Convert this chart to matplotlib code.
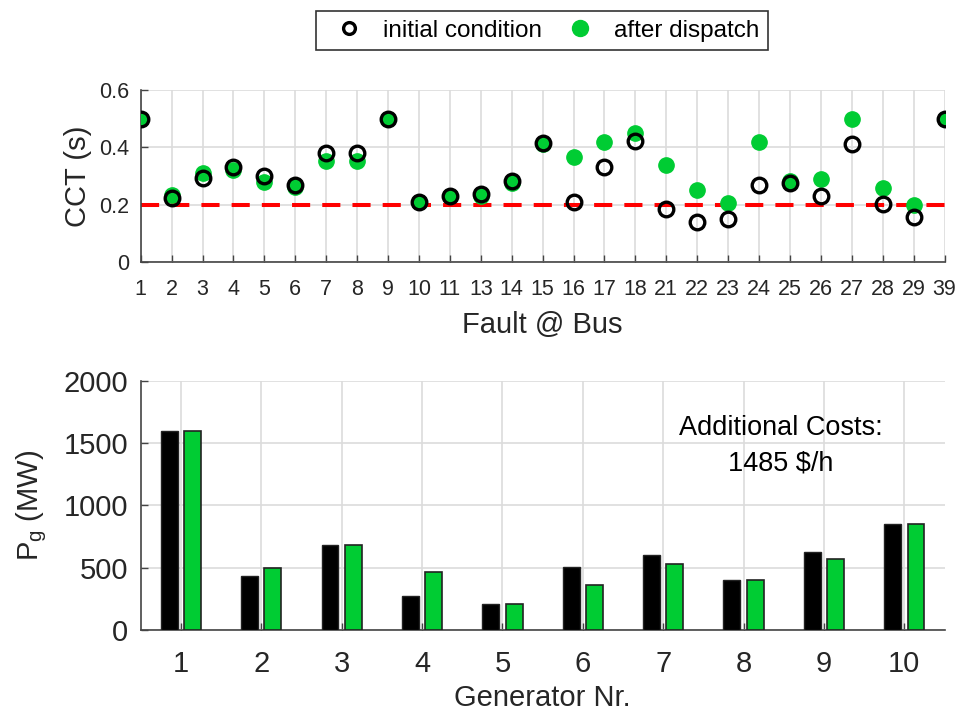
import numpy as np
import matplotlib.pyplot as plt
from matplotlib.lines import Line2D

plt.rcParams['font.family'] = ['Liberation Sans', 'DejaVu Sans']

# CCT per fault location
buses = ['1', '2', '3', '4', '5', '6', '7', '8', '9', '10', '11', '13', '14', '15',
         '16', '17', '18', '21', '22', '23', '24', '25', '26', '27', '28', '29', '39']
cct_initial = [0.50, 0.225, 0.295, 0.333, 0.302, 0.269, 0.381, 0.381, 0.50, 0.211,
               0.231, 0.237, 0.283, 0.417, 0.210, 0.333, 0.422, 0.186, 0.139, 0.152,
               0.268, 0.275, 0.231, 0.411, 0.201, 0.159, 0.50]
cct_dispatch = [0.50, 0.234, 0.312, 0.321, 0.281, 0.263, 0.354, 0.354, 0.50, 0.211,
                0.231, 0.229, 0.275, 0.411, 0.366, 0.418, 0.449, 0.339, 0.251, 0.205,
                0.418, 0.284, 0.289, 0.501, 0.258, 0.200, 0.50]
cct_limit = 0.2

# generator outputs
generators = [1, 2, 3, 4, 5, 6, 7, 8, 9, 10]
pg_initial = [1600, 433, 682, 275, 209, 505, 599, 398, 623, 853]
pg_dispatch = [1600, 497, 680, 468, 206, 358, 529, 398, 567, 853]
extra_cost = 1485

green = '#00cc33'
txt = '#262626'

fig = plt.figure(figsize=(9.57, 7.16), dpi=100)
ax1 = fig.add_axes([0.147, 0.634, 0.840, 0.240])
ax2 = fig.add_axes([0.147, 0.120, 0.840, 0.348])

for ax in (ax1, ax2):
    ax.grid(True, color='#dcdcdc', linewidth=1.2)
    ax.set_axisbelow(True)
    for s in ('top', 'right'):
        ax.spines[s].set_visible(False)
    for s in ('left', 'bottom'):
        ax.spines[s].set_color('#444444')
        ax.spines[s].set_linewidth(1.2)
    ax.tick_params(direction='in', colors='#444444', labelcolor=txt, length=5, width=1)

# top plot
x = np.arange(1, len(buses) + 1)
ax1.axhline(cct_limit, color='red', linestyle=(0, (4.5, 3.0)), linewidth=2.9, zorder=2)
ax1.plot(x, cct_dispatch, 'o', color=green, markeredgecolor=green, markersize=11,
         zorder=3)
ax1.plot(x, cct_initial, 'o', markerfacecolor='none', markeredgecolor='black',
         markersize=10.5, markeredgewidth=2.4, zorder=4)
ax1.set_xlim(1, len(buses))
ax1.set_ylim(0, 0.6)
ax1.set_xticks(x)
ax1.set_xticklabels(buses, fontsize=15.5)
ax1.set_yticks([0, 0.2, 0.4, 0.6])
ax1.set_yticklabels(['0', '0.2', '0.4', '0.6'], fontsize=15.5)
ax1.tick_params(axis='x', pad=12)
ax1.tick_params(axis='y', pad=8)
ax1.set_ylabel('CCT (s)', fontsize=21, color=txt)
ax1.set_xlabel('Fault @ Bus', fontsize=21, color=txt, labelpad=8)
ax1.yaxis.set_label_coords(-0.060, 0.5)

# bottom plot
g = np.array(generators)
w = 0.21
ax2.bar(g - 0.145, pg_initial, width=w, color='black', edgecolor='#222222',
        linewidth=1, zorder=3)
ax2.bar(g + 0.145, pg_dispatch, width=w, color=green, edgecolor='#222222',
        linewidth=1.2, zorder=3)
ax2.set_xlim(0.5, 10.5)
ax2.set_ylim(0, 2000)
ax2.set_xticks(g)
ax2.set_xticklabels([str(v) for v in generators], fontsize=21)
ax2.set_yticks([0, 500, 1000, 1500, 2000])
ax2.set_yticklabels(['0', '500', '1000', '1500', '2000'], fontsize=21)
ax2.tick_params(axis='x', pad=14)
ax2.tick_params(axis='y', pad=9)
ax2.set_ylabel(r'P$_\mathregular{g}$ (MW)', fontsize=21, color=txt)
ax2.set_xlabel('Generator Nr.', fontsize=21, color=txt, labelpad=5)
ax2.yaxis.set_label_coords(-0.114, 0.5)
ax2.text(8.46, 1478, 'Additional Costs:\n%d $/h' % extra_cost, ha='center', va='center',
         fontsize=19.5, color='black', linespacing=1.45)

handles = [
    Line2D([], [], marker='o', linestyle='none', markerfacecolor='none',
           markeredgecolor='black', markersize=8.5, markeredgewidth=2.4),
    Line2D([], [], marker='o', linestyle='none', color=green, markersize=11.5),
]
leg = fig.legend(handles, ['initial condition', 'after dispatch'], loc='center',
                 bbox_to_anchor=(0.5664, 0.957), ncol=2, fontsize=17.5, frameon=True,
                 fancybox=False, edgecolor='black', handlelength=2.0, handletextpad=0.4,
                 columnspacing=0.6, borderpad=0.35, borderaxespad=0)
leg.get_frame().set_linewidth(1.2)

fig.savefig('out.png', dpi=100)
